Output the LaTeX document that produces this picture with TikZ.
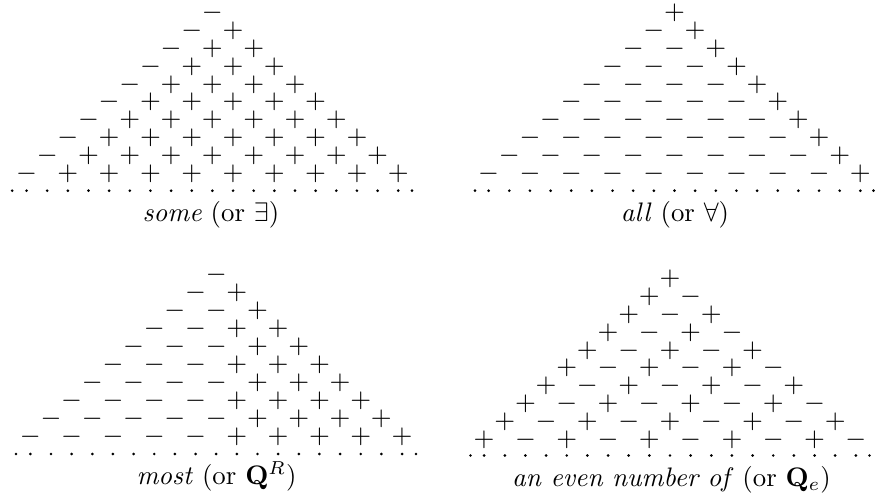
\documentclass[tikz,border=0pt]{standalone}
\usepackage{amsmath,amssymb}
\usepackage{tikz}

\begin{document}
\begin{tikzpicture}[
    x=0.3731pt, y=-0.3731pt,
    sign/.style={inner sep=0pt, anchor=center},
    caption/.style={inner sep=0pt, anchor=base},
    dot/.style={fill=black}
]
\useasboundingbox (0,0) rectangle (875,498);

% some (top left)
\foreach \n in {0,...,9} {
  \foreach \k in {0,...,\n} {
    \node[sign] (some-\n-\k) at ({212.4+(2*\k-\n)*20.65},{13.2+\n*17.8}) {\ifnum\k>0 $+$\else $-$\fi};
  }
}
\foreach \j in {0,...,18} \fill[dot] ({26.55+\j*20.65},190.7) circle[radius=0.55pt];
\fill[dot] (12.2,190.7) circle[radius=0.55pt];
\fill[dot] (412,190.7) circle[radius=0.55pt];
\node[caption] (some-lbl) at (211,221) {\textit{some} (or $\exists$)};

% all (top right)
\foreach \n in {0,...,9} {
  \foreach \k in {0,...,\n} {
    \node[sign] (all-\n-\k) at ({674.5+(2*\k-\n)*20.65},{13.2+\n*17.8}) {\ifnum\k=\n $+$\else $-$\fi};
  }
}
\foreach \j in {0,...,18} \fill[dot] ({488.65+\j*20.65},190.7) circle[radius=0.55pt];
\fill[dot] (475,190.7) circle[radius=0.55pt];
\fill[dot] (873.5,190.7) circle[radius=0.55pt];
\node[caption] (all-lbl) at (675,221) {\textit{all} (or $\forall$)};

% most (bottom left)
\foreach \n in {0,...,9} {
  \foreach \k in {0,...,\n} {
    \node[sign] (most-\n-\k) at ({216.2+(2*\k-\n)*20.65},{275+\n*17.95}) {\ifnum\numexpr2*\k\relax>\n $+$\else $-$\fi};
  }
}
\foreach \j in {0,...,18} \fill[dot] ({30.35+\j*20.65},454) circle[radius=0.55pt];
\fill[dot] (16,454) circle[radius=0.55pt];
\fill[dot] (416,454) circle[radius=0.55pt];
\node[caption] (most-lbl) at (216.5,484) {\textit{most} (or $\mathbf{Q}^R$)};

% an even number of (bottom right)
\foreach \n in {0,...,9} {
  \foreach \k in {0,...,\n} {
    \node[sign] (even-\n-\k) at ({670+(2*\k-\n)*20.65},{279.2+\n*17.8}) {\ifodd\k $-$\else $+$\fi};
  }
}
\foreach \j in {0,...,18} \fill[dot] ({484.15+\j*20.65},455.5) circle[radius=0.55pt];
\fill[dot] (470.5,455.5) circle[radius=0.55pt];
\fill[dot] (869.5,455.5) circle[radius=0.55pt];
\node[caption] (even-lbl) at (671.5,486.5) {\textit{an even number of} (or $\mathbf{Q}_e$)};

\end{tikzpicture}
\end{document}
